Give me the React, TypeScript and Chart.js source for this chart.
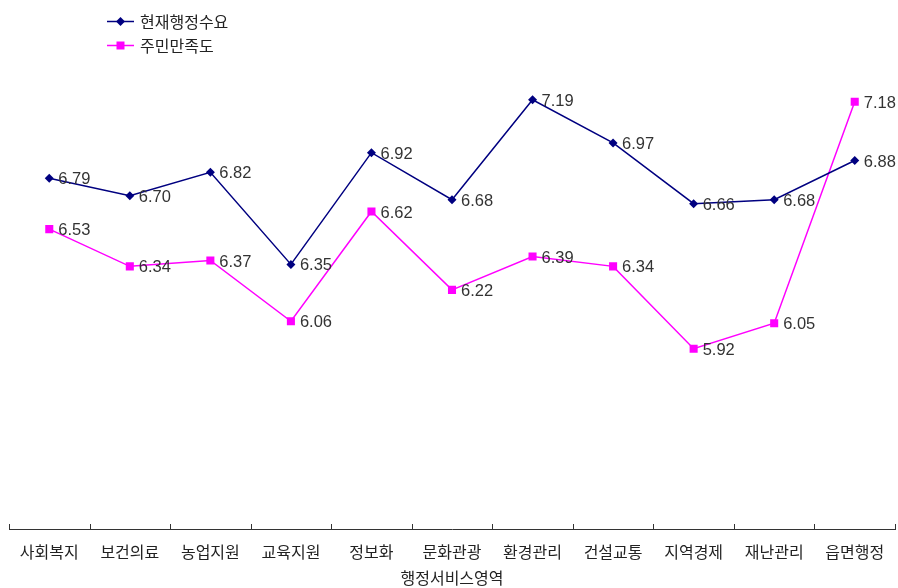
import React, { useEffect, useRef } from "react";
import { Chart, registerables } from "chart.js";

Chart.register(...registerables);

const categories = ["사회복지", "보건의료", "농업지원", "교육지원", "정보화", "문화관광", "환경관리", "건설교통", "지역경제", "재난관리", "읍면행정"];
const seriesNames = ["현재행정수요", "주민만족도"];
const currentDemand = [6.79, 6.70, 6.82, 6.35, 6.92, 6.68, 7.19, 6.97, 6.66, 6.68, 6.88];
const satisfaction = [6.53, 6.34, 6.37, 6.06, 6.62, 6.22, 6.39, 6.34, 5.92, 6.05, 7.18];
const axisTitle = "행정서비스영역";

const NAVY = "#000080";
const MAGENTA = "#FF00FF";
const LATIN_FONT = '"Liberation Sans", "Noto Sans CJK KR", sans-serif';
const KR_FONT = '"Noto Sans CJK KR", "Liberation Sans", sans-serif';

const labelsPlugin = {
  id: "valueLabels",
  afterDatasetsDraw(chart: any) {
    const ctx = chart.ctx;
    ctx.save();
    ctx.font = `16.5px ${LATIN_FONT}`;
    ctx.fillStyle = "#333333";
    ctx.textAlign = "left";
    ctx.textBaseline = "middle";
    chart.data.datasets.forEach((ds: any, di: number) => {
      const meta = chart.getDatasetMeta(di);
      meta.data.forEach((pt: any, i: number) => {
        ctx.fillText(Number(ds.data[i]).toFixed(2), pt.x + 9, pt.y + 1.5);
      });
    });
    ctx.restore();
  },
};

const axisTicksPlugin = {
  id: "innerTicks",
  afterDraw(chart: any) {
    const ctx = chart.ctx;
    const xs = chart.scales.x;
    const n = categories.length;
    const step = (xs.right - xs.left) / n;
    ctx.save();
    ctx.strokeStyle = "#333333";
    ctx.lineWidth = 1;
    ctx.beginPath();
    for (let i = 0; i <= n; i++) {
      const x = Math.round(xs.left + i * step) + 0.5;
      ctx.moveTo(x, xs.top - 5);
      ctx.lineTo(x, xs.top);
    }
    ctx.stroke();
    ctx.restore();
  },
};

const legendPlugin = {
  id: "customLegend",
  afterDraw(chart: any) {
    const ctx = chart.ctx;
    const items = [
      { text: seriesNames[0], color: NAVY, style: "diamond", y: 21 },
      { text: seriesNames[1], color: MAGENTA, style: "square", y: 45 },
    ];
    ctx.save();
    items.forEach((it) => {
      ctx.strokeStyle = it.color;
      ctx.lineWidth = 1.5;
      ctx.beginPath();
      ctx.moveTo(107, it.y + 0.5);
      ctx.lineTo(134, it.y + 0.5);
      ctx.stroke();
      ctx.fillStyle = it.color;
      ctx.beginPath();
      const cx = 120.5;
      const cy = it.y + 0.5;
      if (it.style === "diamond") {
        ctx.moveTo(cx - 4.5, cy);
        ctx.lineTo(cx, cy - 4.5);
        ctx.lineTo(cx + 4.5, cy);
        ctx.lineTo(cx, cy + 4.5);
        ctx.closePath();
      } else {
        ctx.rect(cx - 4, cy - 4, 8, 8);
      }
      ctx.fill();
      ctx.fillStyle = "#222222";
      ctx.font = `16px ${KR_FONT}`;
      ctx.textAlign = "left";
      ctx.textBaseline = "middle";
      ctx.fillText(it.text, 140, it.y + 1);
    });
    ctx.restore();
  },
};

const fixAreaPlugin = {
  id: "fixArea",
  afterLayout(chart: any) {
    const left = 9;
    const right = chart.width - 3;
    chart.chartArea.left = left;
    chart.chartArea.right = right;
    chart.chartArea.width = right - left;
    const xs = chart.scales.x;
    xs.left = left;
    xs.right = right;
    xs.width = right - left;
    xs.configure();
  },
};

export default function App() {
  const canvasRef = useRef<HTMLCanvasElement | null>(null);

  useEffect(() => {
    if (!canvasRef.current) return;
    const chart = new Chart(canvasRef.current, {
      type: "line",
      data: {
        labels: categories,
        datasets: [
          {
            label: seriesNames[0],
            data: currentDemand,
            borderColor: NAVY,
            backgroundColor: NAVY,
            borderWidth: 1.5,
            pointStyle: "rectRot",
            pointRadius: 4.5,
            pointBorderWidth: 0,
            pointBackgroundColor: NAVY,
            tension: 0,
          },
          {
            label: seriesNames[1],
            data: satisfaction,
            borderColor: MAGENTA,
            backgroundColor: MAGENTA,
            borderWidth: 1.5,
            pointStyle: "rect",
            pointRadius: 5.7,
            pointBorderWidth: 0,
            pointBackgroundColor: MAGENTA,
            tension: 0,
          },
        ],
      },
      options: {
        responsive: false,
        animation: false,
        layout: { padding: { left: 9, right: 3, top: 39, bottom: 0 } },
        plugins: {
          legend: { display: false },
          tooltip: { enabled: false },
        },
        scales: {
          x: {
            offset: true,
            grid: { display: false },
            border: { display: true, color: "#333333", width: 1 },
            ticks: {
              color: "#222222",
              font: { family: KR_FONT, size: 16 },
              padding: 5,
              maxRotation: 0,
              autoSkip: false,
            },
            title: {
              display: true,
              text: axisTitle,
              color: "#222222",
              font: { family: KR_FONT, size: 16 },
              padding: { top: 0, bottom: 0 },
            },
            afterFit: (scale: any) => {
              scale.height = 59;
            },
          },
          y: {
            display: false,
            min: 5,
            max: 7.5,
          },
        },
      },
      plugins: [labelsPlugin, axisTicksPlugin, legendPlugin, fixAreaPlugin],
    });
    return () => chart.destroy();
  }, []);

  return (
    <div style={{ position: "absolute", left: 0, top: 0, width: 898, height: 588, background: "#ffffff" }}>
      <canvas ref={canvasRef} width={898} height={588} />
    </div>
  );
}
